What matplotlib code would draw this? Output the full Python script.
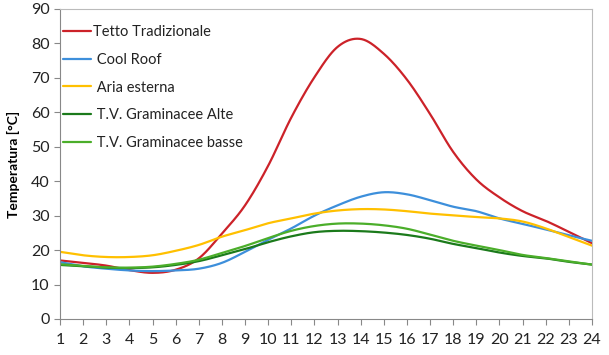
import numpy as np
import matplotlib
matplotlib.use("Agg")
import matplotlib.pyplot as plt

hours = list(range(1, 25))
tetto = [17, 16.3, 15.5, 14.2, 13.4, 14.3, 17.6, 24.8, 33, 44.5, 58.5, 70.2, 79.0, 81.3,
         77, 69.5, 59.5, 48.5, 40.5, 35.3, 31.3, 28.5, 25.3, 22]
cool = [16.5, 15.3, 14.6, 14.1, 13.9, 14.1, 14.6, 16.3, 19.5, 23, 26.3, 30, 33, 35.5,
        36.8, 36.2, 34.5, 32.6, 31.3, 29.2, 27.6, 26, 24.3, 22.7]
aria = [19.5, 18.5, 18, 18, 18.5, 19.8, 21.5, 23.9, 25.8, 27.8, 29.2, 30.6, 31.5, 31.9,
        31.8, 31.3, 30.6, 30.1, 29.6, 29.2, 28.3, 26.3, 23.8, 21.3]
alte = [15.7, 15.3, 14.9, 14.8, 15.0, 15.7, 16.8, 18.5, 20.3, 22.3, 24, 25.2, 25.6, 25.5,
        25.1, 24.4, 23.3, 21.8, 20.6, 19.3, 18.3, 17.6, 16.6, 15.8]
basse = [15.9, 15.4, 15.0, 14.9, 15.2, 16.0, 17.2, 19.2, 21.2, 23.5, 25.6, 27, 27.7, 27.7,
         27.2, 26.2, 24.5, 22.7, 21.3, 20, 18.6, 17.7, 16.7, 15.8]

series = [
    ("Tetto Tradizionale", tetto, "#CC2229"),
    (" Cool Roof", cool, "#3D8FDB"),
    (" Aria esterna", aria, "#FFC000"),
    (" T.V. Graminacee Alte", alte, "#1B7A1B"),
    (" T.V. Graminacee basse", basse, "#4BAE2A"),
]


def smooth(x, y, n=20):
    x = np.asarray(x, float)
    y = np.asarray(y, float)
    px = np.concatenate([[2 * x[0] - x[1]], x, [2 * x[-1] - x[-2]]])
    py = np.concatenate([[2 * y[0] - y[1]], y, [2 * y[-1] - y[-2]]])
    xs, ys = [], []
    t = np.linspace(0, 1, n, endpoint=False)
    for i in range(1, len(px) - 2):
        p0, p1, p2, p3 = py[i - 1], py[i], py[i + 1], py[i + 2]
        q0, q1, q2, q3 = px[i - 1], px[i], px[i + 1], px[i + 2]
        f = lambda a0, a1, a2, a3: 0.5 * ((2 * a1) + (-a0 + a2) * t +
                                          (2 * a0 - 5 * a1 + 4 * a2 - a3) * t ** 2 +
                                          (-a0 + 3 * a1 - 3 * a2 + a3) * t ** 3)
        xs.append(f(q0, q1, q2, q3))
        ys.append(f(p0, p1, p2, p3))
    xs.append([x[-1]])
    ys.append([y[-1]])
    return np.concatenate(xs), np.concatenate(ys)


plt.rcParams['font.family'] = ['Lato', 'DejaVu Sans']
fig = plt.figure(figsize=(6.09, 3.55), dpi=100)
ax = fig.add_axes([60 / 609, 1 - 319 / 355, (592 - 60) / 609, (319 - 9) / 355])

for name, vals, col in series:
    sx, sy = smooth(hours, vals)
    ax.plot(sx, sy, color=col, lw=1.6, label=name, solid_capstyle='round')

ax.set_xlim(1, 24)
ax.set_ylim(0, 90)
ax.set_xticks(hours)
ax.set_yticks(range(0, 91, 10))
ax.tick_params(axis='both', labelsize=11.5, color='#888888', length=4, width=0.8,
               labelcolor='#222222')
ax.tick_params(axis='x', pad=6)
for s in ['left', 'bottom']:
    ax.spines[s].set_color('#888888')
for s in ['top', 'right']:
    ax.spines[s].set_color('#BBBBBB')
ax.set_ylabel("Temperatura [°C]", fontsize=10, fontweight='bold', labelpad=8)

leg = ax.legend(loc='upper left', frameon=False, fontsize=10.5, handlelength=1.9,
                handletextpad=0.15, labelspacing=0.95, borderaxespad=0, borderpad=0,
                bbox_to_anchor=(3 / 532, 0.949))
for t in leg.get_texts():
    t.set_color('#222222')

fig.savefig("out.png", dpi=100)
